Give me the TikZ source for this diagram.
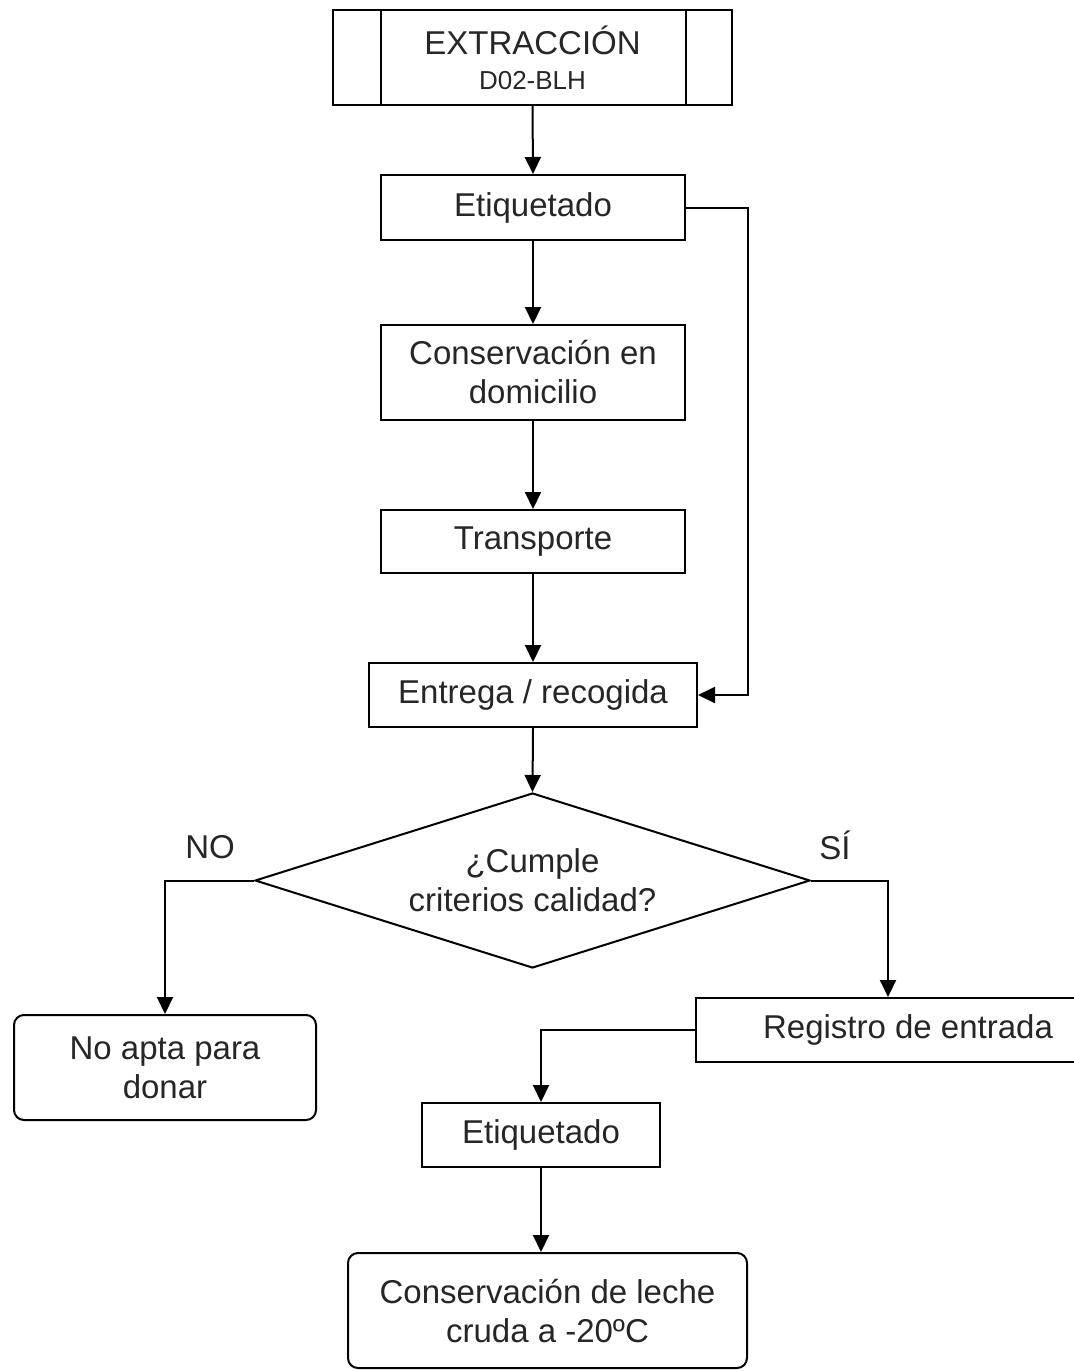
\documentclass[tikz,border=0pt]{standalone}
\usepackage{fontspec}
\setmainfont{Liberation Sans}
\usetikzlibrary{arrows.meta,shapes.geometric}

\begin{document}
\begin{tikzpicture}[x=0.5pt,y=-0.5pt,
    font=\fontsize{16.5}{19.5}\selectfont,
    box/.style={draw,line width=1pt,inner sep=0pt,align=center,text=black!85},
    roundbox/.style={box,rounded corners=5pt},
    decision/.style={box,diamond,aspect=3.17},
    arr/.style={line width=1pt,-{Triangle[length=8.5pt,width=8pt]}},
    lbl/.style={text=black!85}]
  \useasboundingbox (0,0) rectangle (1073,1371);

  % main column
  \node[box,minimum width=199.5pt,minimum height=47.5pt] (extr) at (532.5,57.5)
    {EXTRACCIÓN\\[-2pt]{\fontsize{13}{15}\selectfont D02-BLH}};
  \draw[line width=1pt] ([xshift=24.5pt]extr.north west) -- ([xshift=24.5pt]extr.south west);
  \draw[line width=1pt] ([xshift=-23.5pt]extr.north east) -- ([xshift=-23.5pt]extr.south east);
  \node[box,minimum width=152pt,minimum height=32.5pt] (etiq) at (533,207.5) {Etiquetado};
  \node[box,minimum width=152pt,minimum height=47.5pt] (cons) at (533,372.5) {Conservación en\\domicilio};
  \node[box,minimum width=152pt,minimum height=31.5pt] (transp) at (533,541.5) {Transporte};
  \node[box,minimum width=164pt,minimum height=32pt] (entrega) at (533,695) {Entrega / recogida};
  \node[decision,minimum width=277.5pt,minimum height=87.5pt] (cumple) at (532.5,880.5)
    {¿Cumple\\criterios calidad?};

  % branches
  \node[lbl] (no) at (210,847) {NO};
  \node[lbl] (si) at (835,845) {SÍ};
  \node[roundbox,minimum width=151pt,minimum height=52.5pt] (noapta) at (165,1067.5) {No apta para\\donar};
  \node[box,minimum width=212pt,minimum height=32pt] (registro) at (908,1030) {Registro de entrada};
  \node[box,minimum width=119pt,minimum height=32pt] (etiqb) at (541,1135) {Etiquetado};
  \node[roundbox,minimum width=199.5pt,minimum height=57.5pt] (leche) at (547.5,1310.5)
    {Conservación de leche\\cruda a -20ºC};

  % connectors
  \draw[arr] (extr.south) -- (etiq.north);
  \draw[arr] (etiq.south) -- (cons.north);
  \draw[arr] (cons.south) -- (transp.north);
  \draw[arr] (transp.south) -- (entrega.north);
  \draw[arr] (etiq.east) -- ([xshift=31pt]etiq.east) |- (entrega.east);
  \draw[arr] (entrega.south) -- (cumple.north);
  \draw[arr] (cumple.west) -| (noapta.north);
  \draw[arr] (cumple.east) -| ([xshift=-10pt]registro.north);
  \draw[arr] (registro.west) -| (etiqb.north);
  \draw[arr] (etiqb.south) -- (etiqb.south |- leche.north);
\end{tikzpicture}
\end{document}
